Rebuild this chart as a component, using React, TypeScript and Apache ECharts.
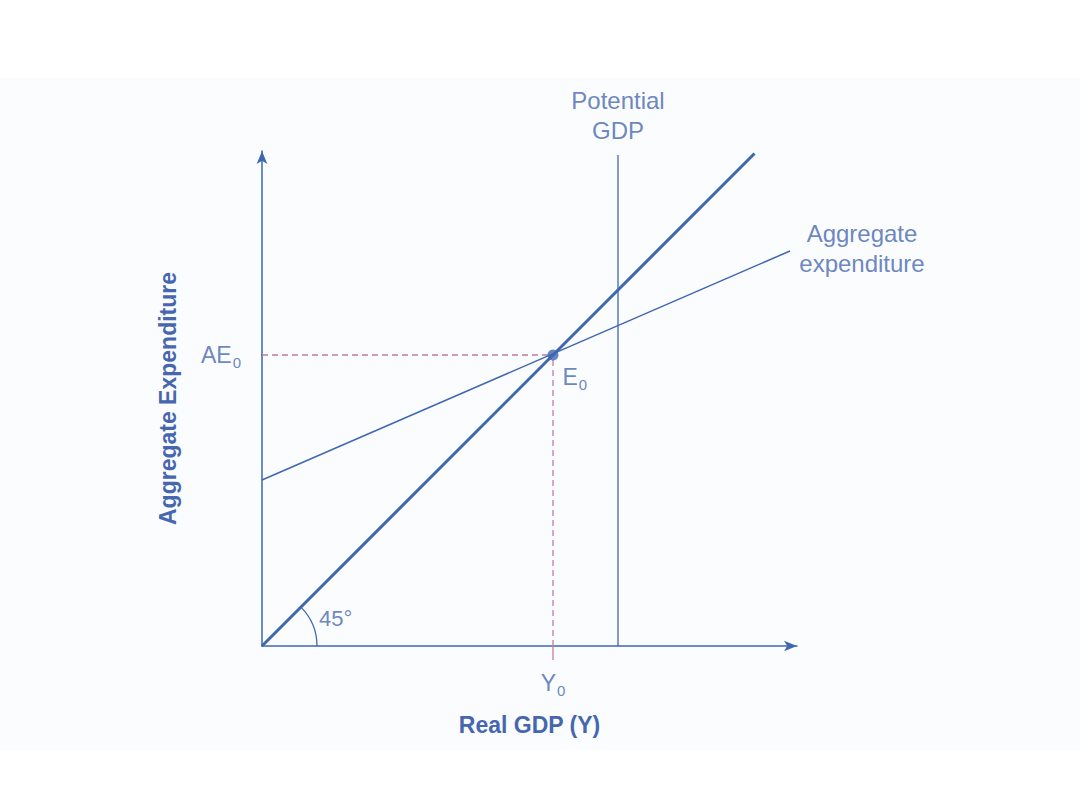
import React, { useEffect, useRef } from "react";
import * as echarts from "echarts";

// Data (units: 1 unit = 5 px, same scale on both axes so the 45° line is 45°)
const xRange = [0, 107];
const yRange = [0, 99];
const line45 = [[0, 0], [98.5, 98.5]];
const aeLine = [[0, 33.2], [105.6, 79.0]];
const potentialGDP = [[71.2, 0], [71.2, 98.2]];
const equilibrium = [58.2, 58.2];
const aeDash = [[0, 58.2], [58.2, 58.2]];
const yDash = [[58.2, 0], [58.2, 58.2]];
const aeTick = [[-2.4, 58.2], [0, 58.2]];
const yTick = [[58.2, -2.8], [58.2, 0]];
const angleLabelPos = [10.8, 5.6];

const BLUE = "#3f67b1";
const TEXT = "#4667b0";
const PINK = "#c27ba3";
const FONT = "'Liberation Sans', Arial, sans-serif";

const GRID = { left: 262, top: 151, width: 535, height: 495 };

export default function App() {
  const ref = useRef<HTMLDivElement>(null);
  useEffect(() => {
    if (!ref.current) return;
    const chart = echarts.init(ref.current, null, { renderer: "svg" });
    const ox = GRID.left;
    const oy = GRID.top + GRID.height;
    const sub = { fontSize: 15, color: TEXT, fontFamily: FONT, padding: [15, 0, 0, 1] };
    const big = { fontSize: 23, color: TEXT, fontFamily: FONT };
    chart.setOption({
      animation: false,
      backgroundColor: "#ffffff",
      graphic: [
        { type: "rect", z: -10, silent: true, shape: { x: 0, y: 78, width: 1080, height: 672 }, style: { fill: "#fafcfe" } },
        {
          type: "arc", z: 10,
          shape: { cx: ox, cy: oy, r: 55, startAngle: -Math.PI / 4, endAngle: 0 },
          style: { stroke: BLUE, lineWidth: 1.3, fill: null },
        },
      ],
      grid: { ...GRID, containLabel: false },
      xAxis: {
        type: "value", min: xRange[0], max: xRange[1],
        splitLine: { show: false }, axisTick: { show: false }, axisLabel: { show: false },
        axisLine: { lineStyle: { color: BLUE, width: 1.5 }, symbol: ["none", "arrow"], symbolSize: [8, 13] },
        name: "Real GDP (Y)", nameLocation: "middle", nameGap: 67,
        nameTextStyle: { color: TEXT, fontSize: 23, fontWeight: "bold", fontFamily: FONT },
      },
      yAxis: {
        type: "value", min: yRange[0], max: yRange[1],
        splitLine: { show: false }, axisTick: { show: false }, axisLabel: { show: false },
        axisLine: { lineStyle: { color: BLUE, width: 1.5 }, symbol: ["none", "arrow"], symbolSize: [8, 13] },
        name: "Aggregate Expenditure", nameLocation: "middle", nameGap: 83, nameRotate: 90,
        nameTextStyle: { color: TEXT, fontSize: 23, fontWeight: "bold", fontFamily: FONT },
      },
      series: [
        {
          type: "line", data: aeDash, symbol: "none", clip: false,
          lineStyle: { color: PINK, width: 1.3, type: [6, 4] },
        },
        {
          type: "line", data: yDash, symbol: "none", clip: false,
          lineStyle: { color: PINK, width: 1.3, type: [6, 4] },
        },
        {
          type: "line", data: yTick, symbol: "none", clip: false,
          lineStyle: { color: PINK, width: 1.3 },
        },
        {
          type: "line", data: aeTick, symbol: "none", clip: false,
          lineStyle: { color: BLUE, width: 1.5 },
        },
        {
          type: "line", data: potentialGDP, symbol: "none", clip: false,
          lineStyle: { color: BLUE, width: 1.3 },
        },
        {
          type: "line", data: aeLine, symbol: "none", clip: false,
          lineStyle: { color: BLUE, width: 1.5 },
        },
        {
          type: "line", data: line45, symbol: "none", clip: false,
          lineStyle: { color: BLUE, width: 3 },
        },
        {
          type: "scatter", clip: false, z: 5,
          data: [{ value: equilibrium }],
          symbolSize: 11, itemStyle: { color: BLUE },
          label: {
            show: true, position: "right", distance: 4, offset: [0, 22],
            formatter: "{a|E}{s|0}", rich: { a: big, s: sub },
          },
        },
        {
          type: "scatter", clip: false, symbolSize: 0, z: 5,
          data: [
            {
              value: aeTick[0],
              label: { show: true, position: "left", distance: 9, formatter: "{a|AE}{s|0}", rich: { a: big, s: sub } },
            },
            {
              value: yTick[0],
              label: { show: true, position: "bottom", distance: 8, formatter: "{a|Y}{s|0}", rich: { a: big, s: sub } },
            },
            {
              value: potentialGDP[1],
              label: {
                show: true, position: "top", distance: 10, align: "center",
                formatter: "Potential\nGDP", color: TEXT, fontSize: 24, lineHeight: 30, fontFamily: FONT,
              },
            },
            {
              value: aeLine[1],
              label: {
                show: true, position: "right", distance: 5, align: "center", offset: [67, -3],
                formatter: "Aggregate\nexpenditure", color: TEXT, fontSize: 24, lineHeight: 30, fontFamily: FONT,
              },
            },
            {
              value: angleLabelPos,
              label: {
                show: true, position: "right", distance: 3,
                formatter: "45°", color: TEXT, fontSize: 22, fontFamily: FONT,
              },
            },
          ],
        },
      ],
    });
    return () => chart.dispose();
  }, []);
  return (
    <div
      ref={ref}
      style={{ position: "fixed", left: 0, top: 0, width: 1080, height: 788 }}
    />
  );
}
